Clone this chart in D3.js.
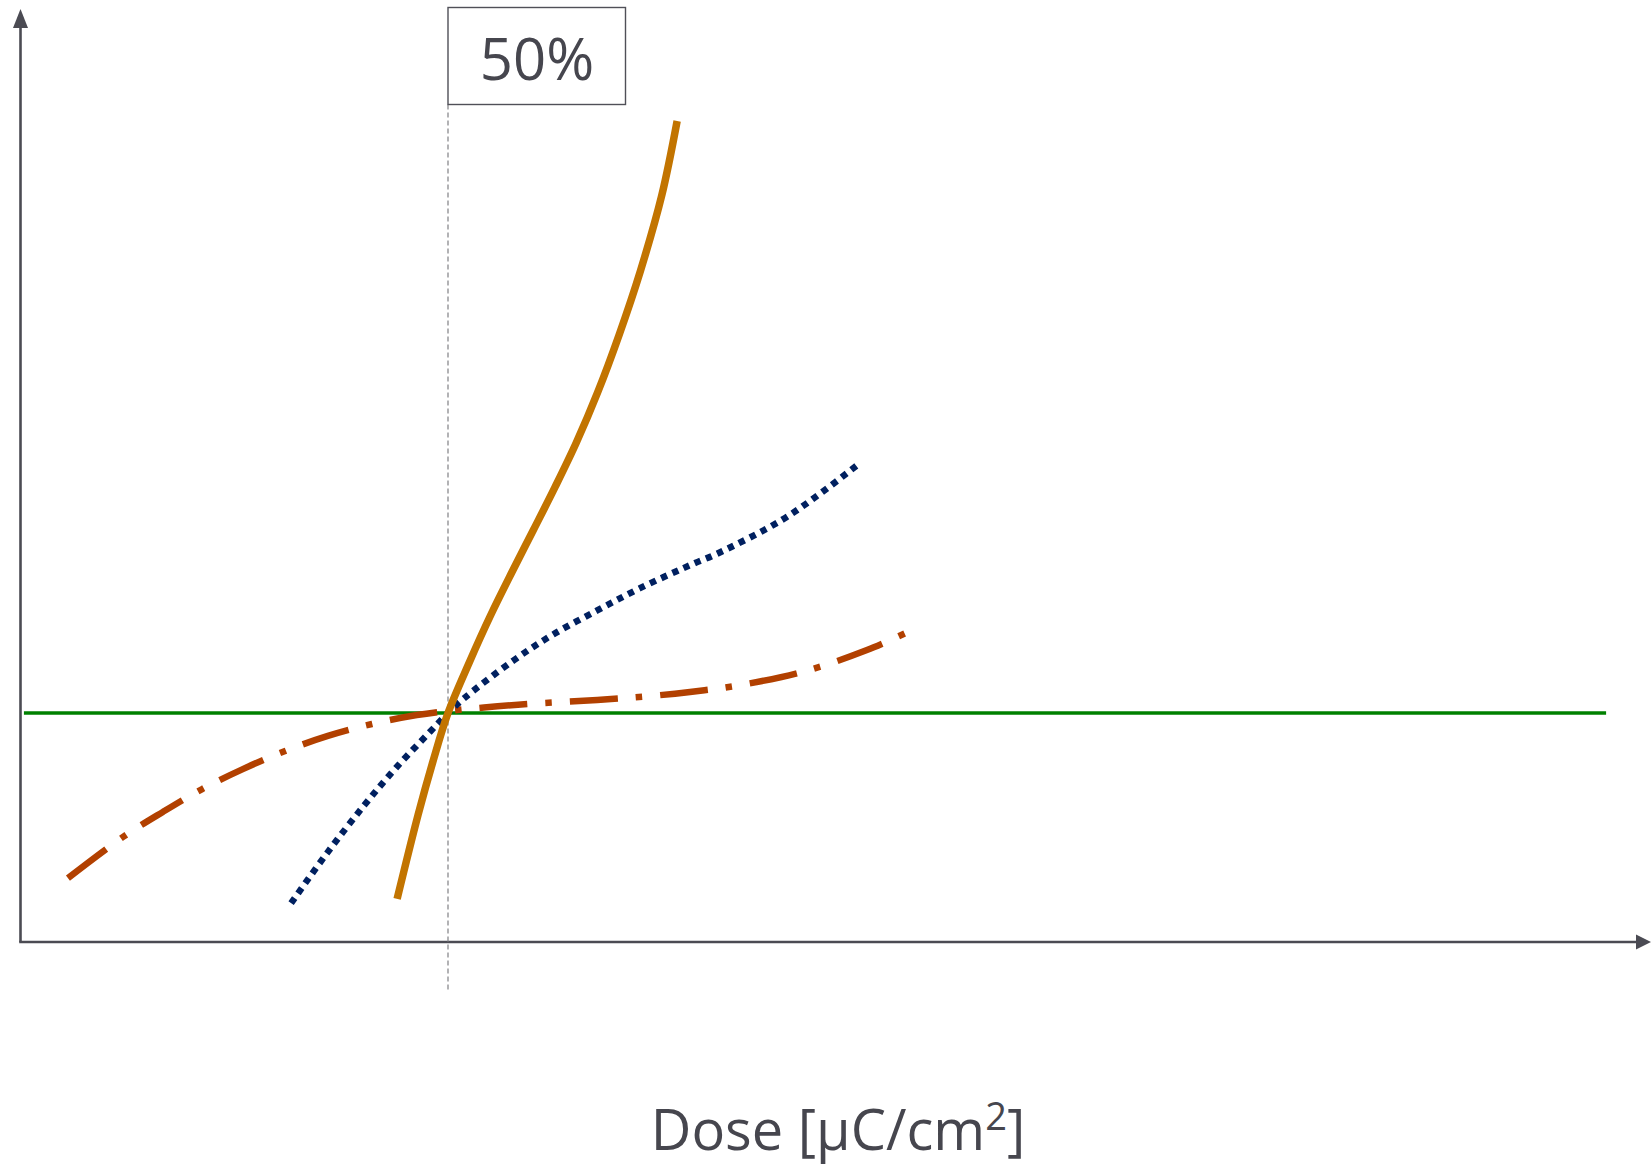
<!DOCTYPE html>
<html>
<head>
<meta charset="utf-8">
<script src="https://cdn.jsdelivr.net/npm/d3@7"></script>
<style>
  html, body { margin: 0; padding: 0; background: #ffffff; }
  svg { display: block; }
</style>
</head>
<body>
<svg id="chart" width="1651" height="1167"></svg>
<script>
// ---- data (x = dose relative to the 50% dose, y = normalised response) ----
const orangeDose = [0.881, 0.930, 0.965, 1.000, 1.050, 1.100, 1.150, 1.200, 1.250, 1.300, 1.350, 1.400, 1.450, 1.500, 1.536];
const orangeResp = [0.188, 0.555, 0.790, 1.000, 1.222, 1.428, 1.617, 1.800, 1.985, 2.180, 2.400, 2.650, 2.930, 3.260, 3.585];

const blueDose = [0.633, 0.717, 0.804, 0.878, 0.958, 1.000, 1.040, 1.152, 1.246, 1.349, 1.449, 1.578, 1.629, 1.781, 1.874, 1.959];
const blueResp = [0.170, 0.388, 0.597, 0.760, 0.918, 1.000, 1.068, 1.228, 1.343, 1.448, 1.545, 1.655, 1.695, 1.843, 1.963, 2.085];

const redDose = [0.111, 0.240, 0.333, 0.425, 0.520, 0.619, 0.719, 0.822, 0.927, 1.000, 1.084, 1.192, 1.349, 1.461, 1.566, 1.671, 1.830, 1.980, 2.085];
const redResp = [0.279, 0.459, 0.568, 0.668, 0.755, 0.834, 0.900, 0.952, 0.991, 1.009, 1.024, 1.040, 1.057, 1.072, 1.092, 1.118, 1.180, 1.275, 1.362];

const greenDose = [0.008, 3.709];
const greenResp = [1.0, 1.0];

const markerDose = 1.0;          // the 50% dose
const markerLabel = "50%";
const xAxisLabel = "Dose [\u00B5C/cm";
const xAxisLabelSup = "2";
const xAxisLabelEnd = "]";

// ---- scales ----
const x = d3.scaleLinear().domain([0, 1]).range([20.5, 448]);
const y = d3.scaleLinear().domain([0, 1]).range([942, 713]);

const svg = d3.select("#chart");
const axisColor = "#4b4b53";
const textColor = "#46464e";

const zip = (a, b) => a.map((v, i) => [v, b[i]]);
const line = d3.line().x(d => x(d[0])).y(d => y(d[1])).curve(d3.curveCatmullRom.alpha(0.5));

// ---- axes ----
const x0 = x(0), y0 = y(0);
svg.append("line")
  .attr("x1", x0).attr("y1", y0).attr("x2", x0).attr("y2", 28)
  .attr("stroke", axisColor).attr("stroke-width", 2.6);
svg.append("path")
  .attr("d", `M${x0},9 L${x0 - 7.5},28 L${x0 + 7.5},28 Z`)
  .attr("fill", axisColor);
svg.append("line")
  .attr("x1", x0 - 1.3).attr("y1", y0).attr("x2", 1636).attr("y2", y0)
  .attr("stroke", axisColor).attr("stroke-width", 2.6);
svg.append("path")
  .attr("d", `M1651,${y0} L1636,${y0 - 7.5} L1636,${y0 + 7.5} Z`)
  .attr("fill", axisColor);

// ---- 50% marker ----
const xm = x(markerDose);
svg.append("line")
  .attr("x1", xm).attr("x2", xm).attr("y1", 104.5).attr("y2", 990)
  .attr("stroke", "#8a8a8e").attr("stroke-width", 1.3)
  .attr("stroke-dasharray", "5,3");
svg.append("rect")
  .attr("x", xm).attr("y", 7.5).attr("width", 177.5).attr("height", 97)
  .attr("fill", "#ffffff").attr("stroke", "#505058").attr("stroke-width", 1.4);
svg.append("text")
  .attr("x", xm + 89).attr("y", 80)
  .attr("text-anchor", "middle")
  .attr("font-family", "'Open Sans', sans-serif")
  .attr("font-size", 58)
  .attr("fill", textColor)
  .text(markerLabel);

// ---- series ----
svg.append("path")
  .datum(zip(greenDose, greenResp))
  .attr("d", line)
  .attr("fill", "none").attr("stroke", "#008000").attr("stroke-width", 3.6);

svg.append("path")
  .datum(zip(redDose, redResp))
  .attr("d", line)
  .attr("fill", "none").attr("stroke", "#B24000").attr("stroke-width", 6.5)
  .attr("stroke-dasharray", "48,18,6.5,18");

svg.append("path")
  .datum(zip(blueDose, blueResp))
  .attr("d", line)
  .attr("fill", "none").attr("stroke", "#002060").attr("stroke-width", 6.5)
  .attr("stroke-dasharray", "6.3,5.9");

svg.append("path")
  .datum(zip(orangeDose, orangeResp))
  .attr("d", line)
  .attr("fill", "none").attr("stroke", "#C27400").attr("stroke-width", 7.5);

// ---- axis label ----
const lbl = svg.append("text")
  .attr("x", 838).attr("y", 1150)
  .attr("text-anchor", "middle")
  .attr("font-family", "'Open Sans', sans-serif")
  .attr("font-size", 56)
  .attr("fill", textColor);
lbl.append("tspan").text(xAxisLabel);
lbl.append("tspan").attr("font-size", 38).attr("dy", -20).text(xAxisLabelSup);
lbl.append("tspan").attr("dy", 20).text(xAxisLabelEnd);
</script>
</body>
</html>
